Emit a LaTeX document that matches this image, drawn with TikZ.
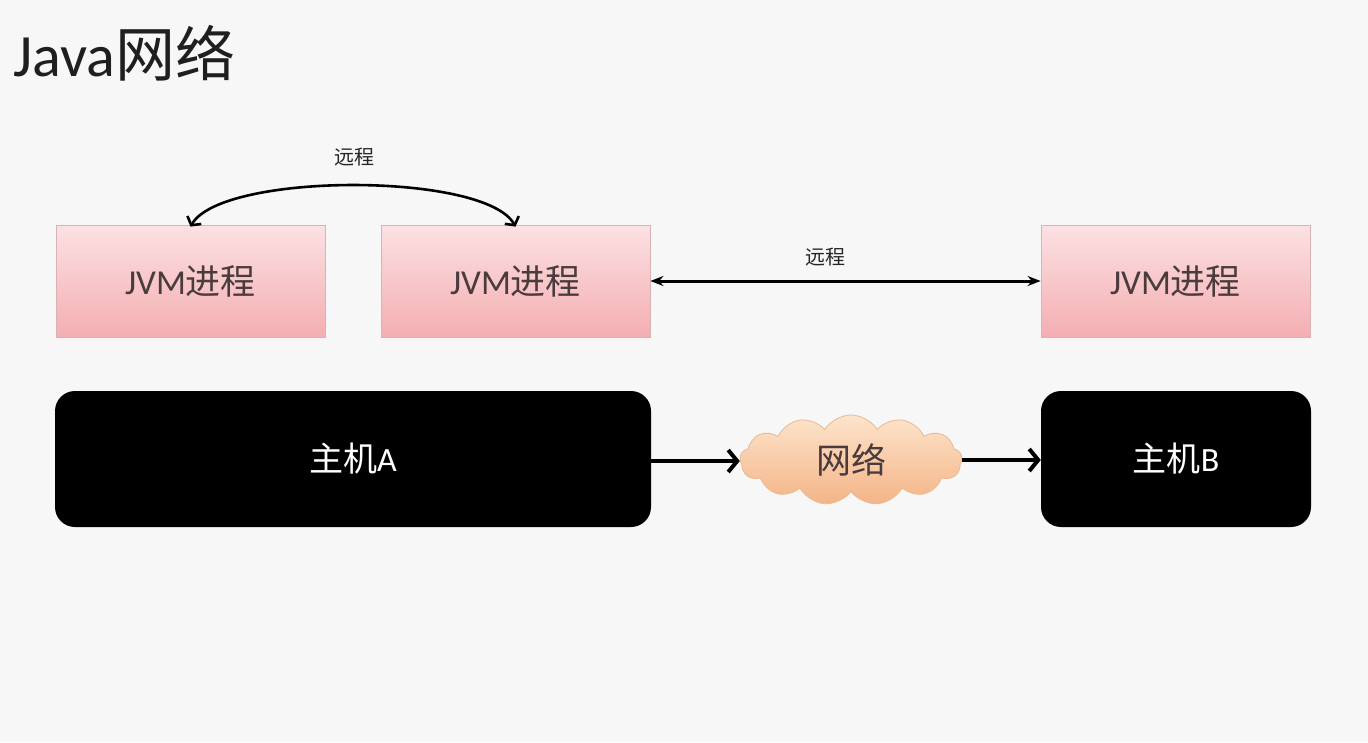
\documentclass[tikz,border=0pt]{standalone}
\usepackage{fontspec}
\setmainfont{Carlito}
\newfontfamily\cjk{Noto Sans CJK SC}
\usetikzlibrary{shapes.symbols,arrows.meta}
\definecolor{bgc}{HTML}{F7F7F7}
\definecolor{pinktop}{HTML}{FBE1E3}
\definecolor{pinkbot}{HTML}{F4AEB2}
\definecolor{pinkdraw}{HTML}{D8B2B4}
\definecolor{jvmtext}{HTML}{4A3B3C}
\definecolor{cloudtop}{HTML}{FDE4CB}
\definecolor{cloudbot}{HTML}{F4B487}
\definecolor{clouddraw}{HTML}{E9B893}
\begin{document}
\begin{tikzpicture}[x=1pt,y=-1pt,
  jvmbox/.style={rectangle, minimum width=269pt, minimum height=112pt, inner sep=0pt,
    top color=pinktop, bottom color=pinkbot, draw=pinkdraw, line width=0.8pt,
    text=jvmtext, font=\fontsize{35}{40}\selectfont},
  hostbox/.style={rectangle, rounded corners=20pt, minimum height=136pt, inner sep=0pt,
    fill=black, text=white, font=\fontsize{34}{40}\selectfont},
  netcloud/.style={cloud, cloud puffs=13, cloud puff arc=115, aspect=2.5,
    minimum width=222pt, minimum height=90pt, inner sep=0pt,
    top color=cloudtop, bottom color=cloudbot, draw=clouddraw, line width=0.8pt,
    text=jvmtext, font=\fontsize{35}{40}\selectfont},
  lbl/.style={text=black!85, font=\fontsize{20}{24}\selectfont\cjk},
  thinarrow/.style={line width=3pt, {Stealth[length=13pt,width=10pt]}-{Stealth[length=13pt,width=10pt]}},
  thickarrow/.style={line width=4pt, -{Straight Barb[length=9pt,width=22pt]}},
  curvearrow/.style={line width=2.6pt, {Straight Barb[length=6pt,width=16pt]}-{Straight Barb[length=6pt,width=16pt]}}
]
\fill[bgc] (0,0) rectangle (1368,742);
\useasboundingbox (0,0) rectangle (1368,742);

\node[anchor=west, text=black!88, inner sep=0pt] (title) at (13,53)
  {\fontsize{60}{64}\selectfont Java{\cjk 网络}};

\node[jvmbox] (j1) at (190.5,281) {JVM{\cjk 进程}};
\node[jvmbox] (j2) at (515.5,281) {JVM{\cjk 进程}};
\node[jvmbox] (j3) at (1175.5,281) {JVM{\cjk 进程}};

\node[hostbox, minimum width=596pt] (ha) at (353,459) {{\cjk 主机}A};
\node[hostbox, minimum width=270pt] (hb) at (1176,459) {{\cjk 主机}B};

\node[netcloud] (net) at (851,460) {\cjk 网络};

\draw[thickarrow] (ha.east |- 0,461) -- (net.west |- 0,461);
\draw[thickarrow] (net.east |- 0,460) -- (hb.west |- 0,460);

\draw[thinarrow] (j2.east) -- (j3.west);
\node[lbl] (l2) at (825,257) {远程};

\draw[curvearrow] ([yshift=-2pt]j1.north) .. controls (222,172) and (485,172) .. ([yshift=-2pt]j2.north);
\node[lbl] (l1) at (354,157) {远程};
\end{tikzpicture}
\end{document}
